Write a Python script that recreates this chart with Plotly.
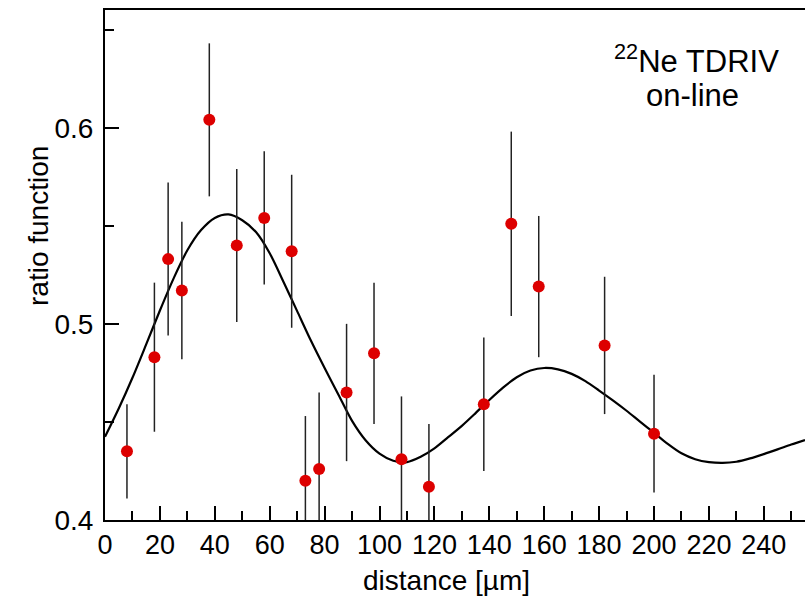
import plotly.graph_objects as go

# Measured ratio function vs. target-stopper distance
distance = [8, 18, 23, 28, 38, 48, 58, 68, 73, 78, 88, 98, 108, 118, 138, 148, 158, 182, 200]
ratio = [0.435, 0.483, 0.533, 0.517, 0.604, 0.540, 0.554, 0.537, 0.420, 0.426,
         0.465, 0.485, 0.431, 0.417, 0.459, 0.551, 0.519, 0.489, 0.444]
ratio_err = [0.024, 0.038, 0.039, 0.035, 0.039, 0.039, 0.034, 0.039, 0.033, 0.039,
             0.035, 0.036, 0.032, 0.032, 0.034, 0.047, 0.036, 0.035, 0.030]

# Fitted curve sampled along the distance axis
fit_x = [0, 5, 10, 15, 20, 25, 30, 35, 40, 45, 50, 55, 60, 65, 70, 75, 80, 85, 90, 95,
         100, 105, 110, 115, 120, 125, 130, 135, 140, 145, 150, 155, 160, 165, 170, 175,
         180, 185, 190, 195, 200, 205, 210, 215, 220, 225, 230, 235, 240, 245, 250, 255]
fit_y = [0.4424, 0.4568, 0.4725, 0.4895, 0.5068, 0.5232, 0.5375, 0.5478, 0.5540, 0.5558,
         0.5528, 0.5468, 0.5360, 0.5215, 0.5065, 0.4915, 0.4775, 0.4640, 0.4505, 0.4405,
         0.4338, 0.4302, 0.4295, 0.4322, 0.4365, 0.4422, 0.4480, 0.4545, 0.4612, 0.4675,
         0.4728, 0.4762, 0.4775, 0.4768, 0.4745, 0.4708, 0.4660, 0.4610, 0.4557, 0.4500,
         0.4445, 0.4388, 0.4340, 0.4310, 0.4295, 0.4291, 0.4297, 0.4314, 0.4336, 0.4360,
         0.4385, 0.4408]

x_ticks = [0, 20, 40, 60, 80, 100, 120, 140, 160, 180, 200, 220, 240]
y_ticks = [0.4, 0.5, 0.6]
y_tick_text = ["0.4", "0.5", "0.6"]

FONT = "Liberation Sans, Arial, sans-serif"

fig = go.Figure()

fig.add_trace(go.Scatter(
    x=fit_x, y=fit_y, mode="lines",
    line=dict(color="black", width=2.2, shape="spline", smoothing=0.8),
    hoverinfo="skip", showlegend=False,
))

fig.add_trace(go.Scatter(
    x=distance, y=ratio, mode="markers",
    marker=dict(color="#dd0000", size=12, line=dict(width=0)),
    error_y=dict(type="data", array=ratio_err, visible=True,
                 color="#222222", thickness=1.5, width=0),
    showlegend=False,
))

fig.update_layout(
    width=805, height=597,
    margin=dict(l=105, r=0, t=10, b=77),
    paper_bgcolor="white", plot_bgcolor="white",
    font=dict(family=FONT, color="black", size=27),
)

fig.update_xaxes(
    range=[0, 255], tickvals=x_ticks, ticktext=[str(v) for v in x_ticks],
    ticks="inside", ticklen=14, tickwidth=1.5, tickcolor="black",
    minor=dict(dtick=10, tick0=0, ticks="inside", ticklen=9, tickwidth=1.5, tickcolor="black"),
    showline=True, linecolor="black", linewidth=2, mirror=True,
    showgrid=False, zeroline=False,
    tickfont=dict(family=FONT, size=27, color="black"),
)
fig.update_yaxes(
    range=[0.4, 0.66], tickvals=y_ticks, ticktext=y_tick_text,
    ticks="inside", ticklen=14, tickwidth=1.5, tickcolor="black",
    minor=dict(dtick=0.05, tick0=0.4, ticks="inside", ticklen=9, tickwidth=1.5, tickcolor="black"),
    showline=True, linecolor="black", linewidth=2,
    showgrid=False, zeroline=False, ticklabelstandoff=4,
    tickfont=dict(family=FONT, size=28, color="black"),
)

# Axis titles
fig.add_annotation(
    text="distance [µm]", xref="paper", yref="paper",
    x=(446 - 105) / 700, y=-60 / 510, xanchor="center", yanchor="middle",
    showarrow=False, font=dict(family=FONT, size=28, color="black"),
)
fig.add_annotation(
    text="ratio function", xref="paper", yref="paper",
    x=(38 - 105) / 700, y=(520 - 226) / 510, xanchor="center", yanchor="middle",
    textangle=-90, showarrow=False, font=dict(family=FONT, size=28, color="black"),
)

# Panel label, two lines set tightly
fig.add_annotation(
    text="<sup>22</sup>Ne TDRIV", xref="paper", yref="paper",
    x=(696 - 105) / 700, y=(520 - 59) / 510, xanchor="center", yanchor="middle",
    showarrow=False, font=dict(family=FONT, size=31, color="black"),
)
fig.add_annotation(
    text="on-line", xref="paper", yref="paper",
    x=(692 - 105) / 700, y=(520 - 96) / 510, xanchor="center", yanchor="middle",
    showarrow=False, font=dict(family=FONT, size=31, color="black"),
)

fig.write_html("out.html")
